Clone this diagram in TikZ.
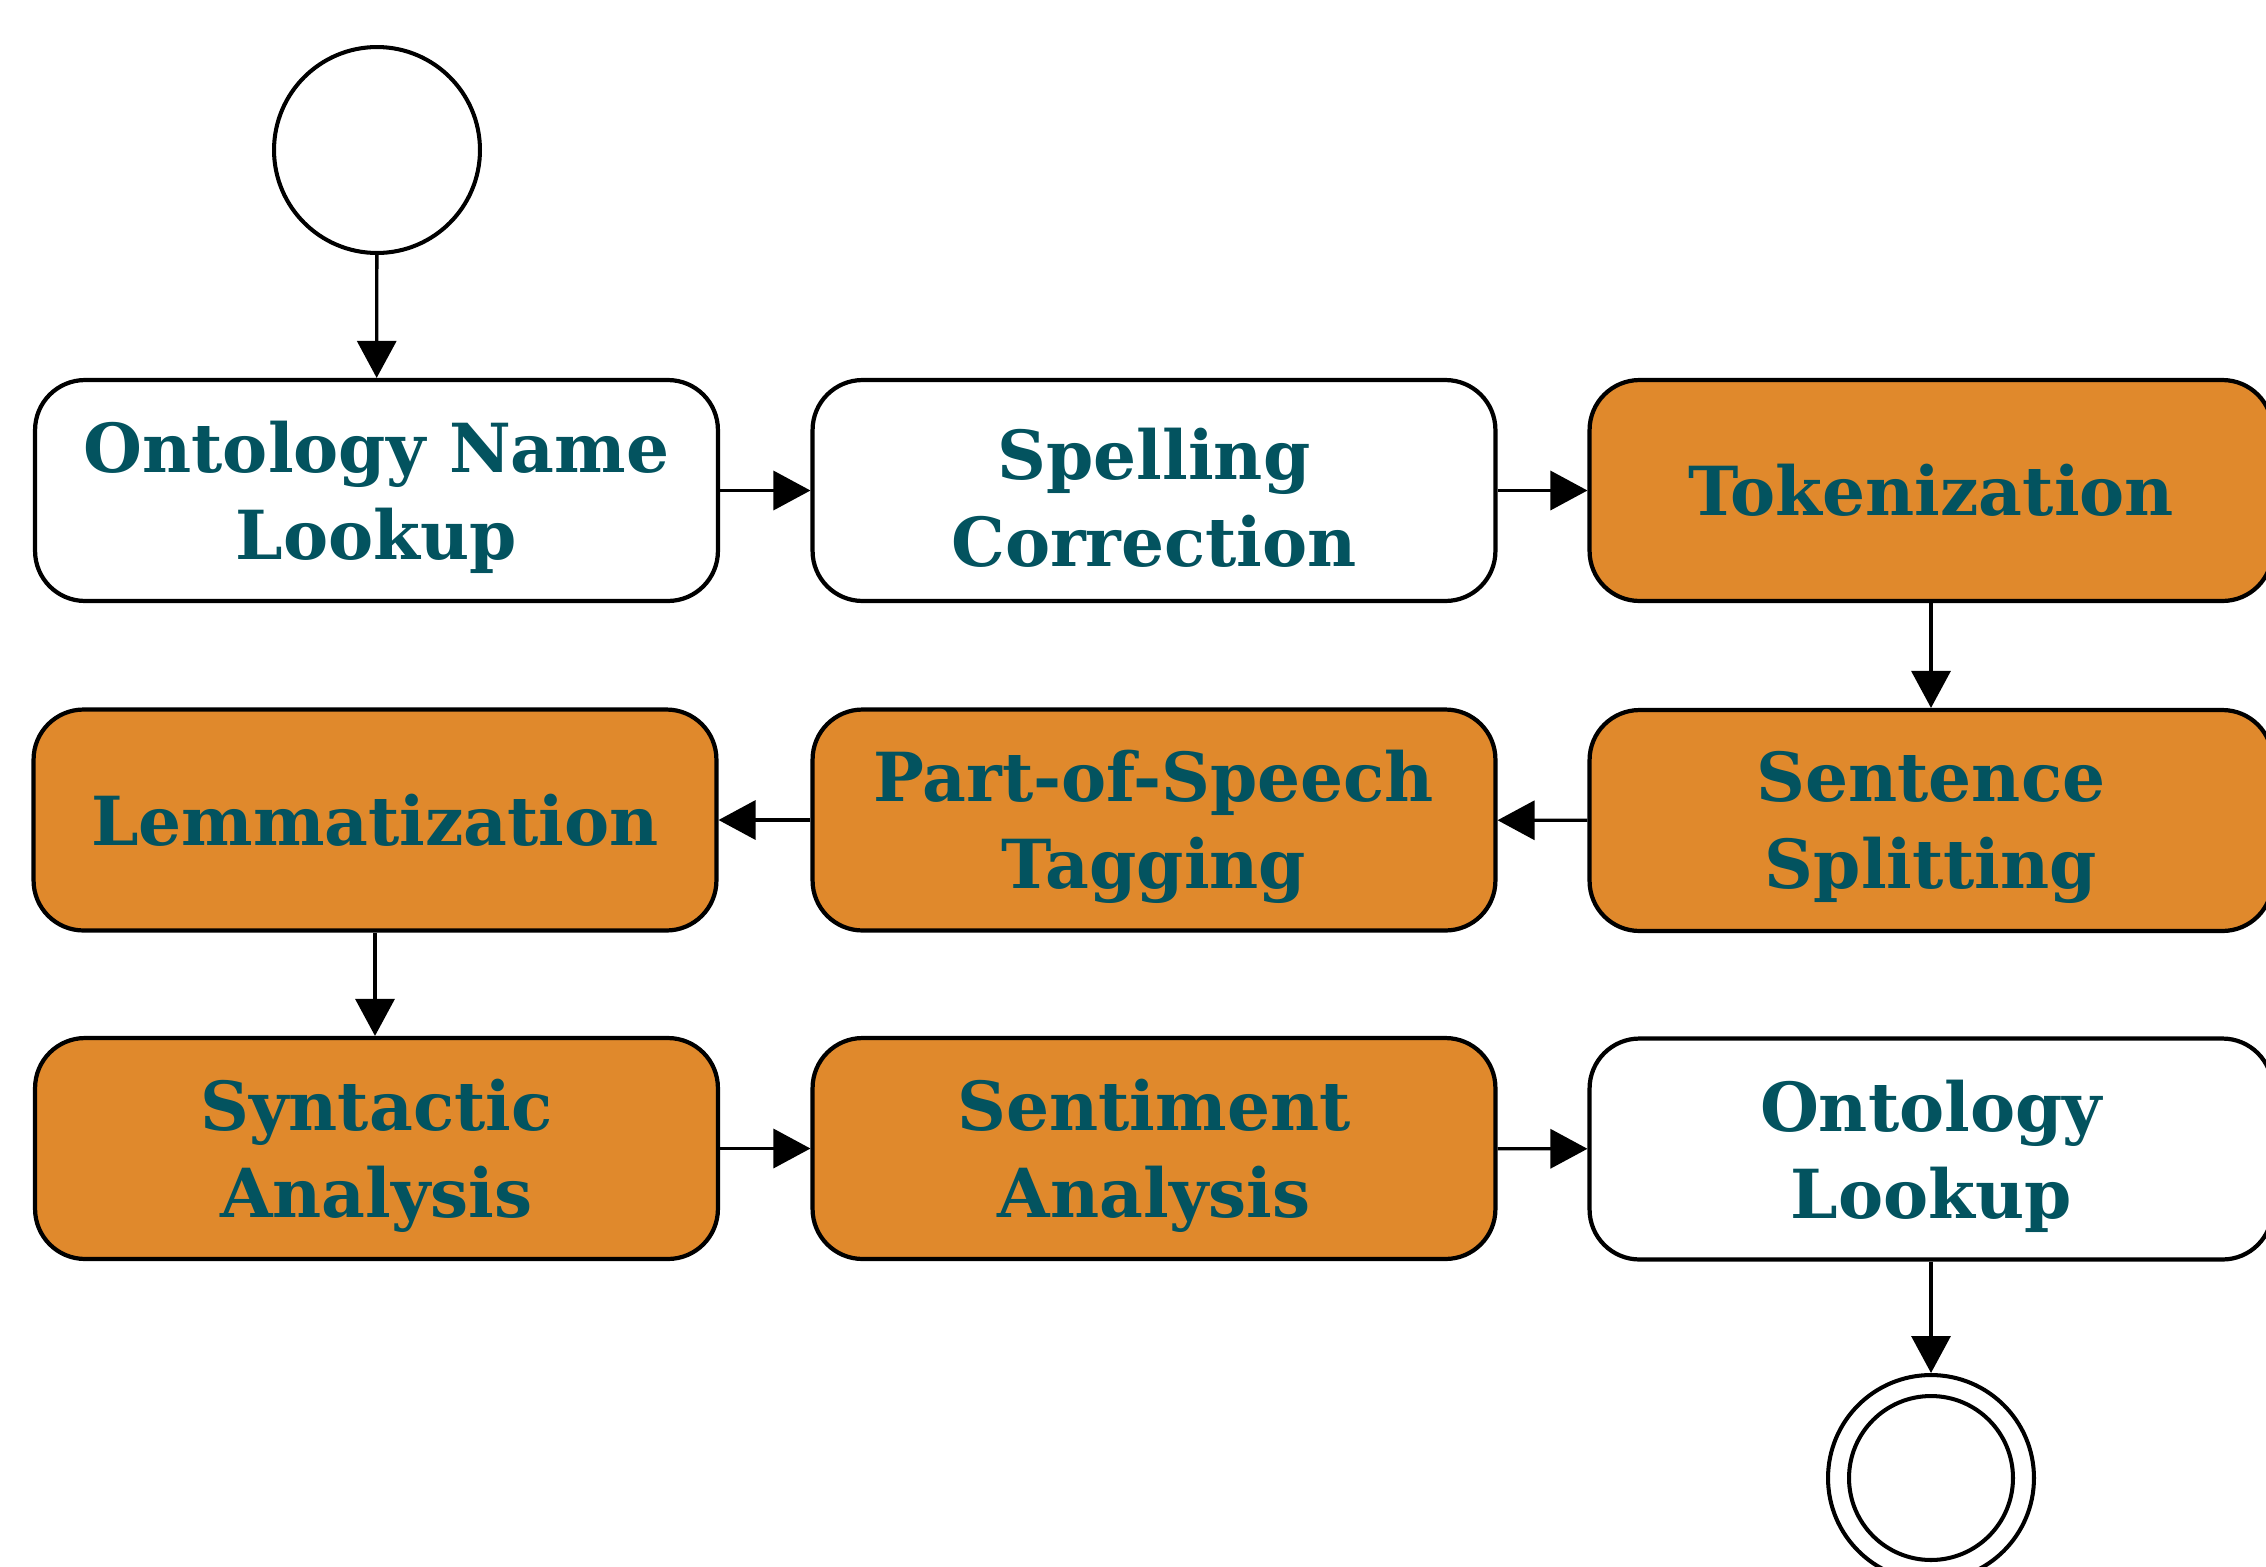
\documentclass[tikz,border=0pt]{standalone}
\usepackage{fontspec}
\setmainfont{DejaVu Serif}
\usetikzlibrary{arrows.meta}
\definecolor{boxorange}{HTML}{E0892C}
\definecolor{txtteal}{HTML}{03535F}
\begin{document}
\begin{tikzpicture}[x=0.02cm,y=-0.02cm,
  proc/.style={draw=black,line width=2.4pt,rounded corners=1cm,
    minimum width=13.66cm,minimum height=4.42cm,inner sep=0pt},
  hl/.style={proc,fill=boxorange},
  plain/.style={proc,fill=white},
  txt/.style={align=center,text=txtteal,inner sep=0pt,
    font=\fontsize{38.5}{49.5}\selectfont\bfseries},
  ring/.style={draw=black,line width=2.3pt,circle,inner sep=0pt},
  conn/.style={draw=black,line width=1.9pt,-{Triangle[length=0.74cm,width=0.78cm]}}]
\useasboundingbox (0,0) rectangle (2266,1566);
\node[ring,minimum size=4.12cm] (start) at (377,150) {};
\node[plain] (onl) at (376.5,490.5) {};
\node[plain] (spc) at (1154,490.5) {};
\node[hl] (tok) at (1931,490.5) {};
\node[hl] (sen) at (1931,820.5) {};
\node[hl] (pos) at (1154,820) {};
\node[hl] (lem) at (375,820) {};
\node[hl] (syn) at (376.5,1148.5) {};
\node[hl] (sent) at (1154,1148.5) {};
\node[plain] (ol) at (1931,1149) {};
\node[ring,minimum size=4.12cm] (end) at (1931,1478) {};
\node[ring,minimum size=3.28cm] (endin) at (1931,1478) {};
\node[txt] (tonl) at ([yshift=-0.14cm]onl.center) {Ontology Name\\Lookup};
\node[txt] (tspc) at ([yshift=-0.14cm]spc.center) {Spelling\\Correction};
\node[txt] (ttok) at (tok.center) {Tokenization};
\node[txt] (tsen) at ([yshift=-0.14cm]sen.center) {Sentence\\Splitting};
\node[txt] (tpos) at ([yshift=-0.14cm]pos.center) {Part-of-Speech\\Tagging};
\node[txt] (tlem) at (lem.center) {Lemmatization};
\node[txt] (tsyn) at ([yshift=-0.14cm]syn.center) {Syntactic\\Analysis};
\node[txt] (tsent) at ([yshift=-0.14cm]sent.center) {Sentiment\\Analysis};
\node[txt] (tol) at ([yshift=-0.14cm]ol.center) {Ontology\\Lookup};
\draw[conn] (start) -- (onl);
\draw[conn] (onl) -- (spc);
\draw[conn] (spc) -- (tok);
\draw[conn] (tok) -- (sen);
\draw[conn] (sen) -- (pos);
\draw[conn] (pos) -- (lem);
\draw[conn] (lem.south) -- (lem.south |- syn.north);
\draw[conn] (syn) -- (sent);
\draw[conn] (sent) -- (ol);
\draw[conn] (ol) -- (end);
\end{tikzpicture}
\end{document}
